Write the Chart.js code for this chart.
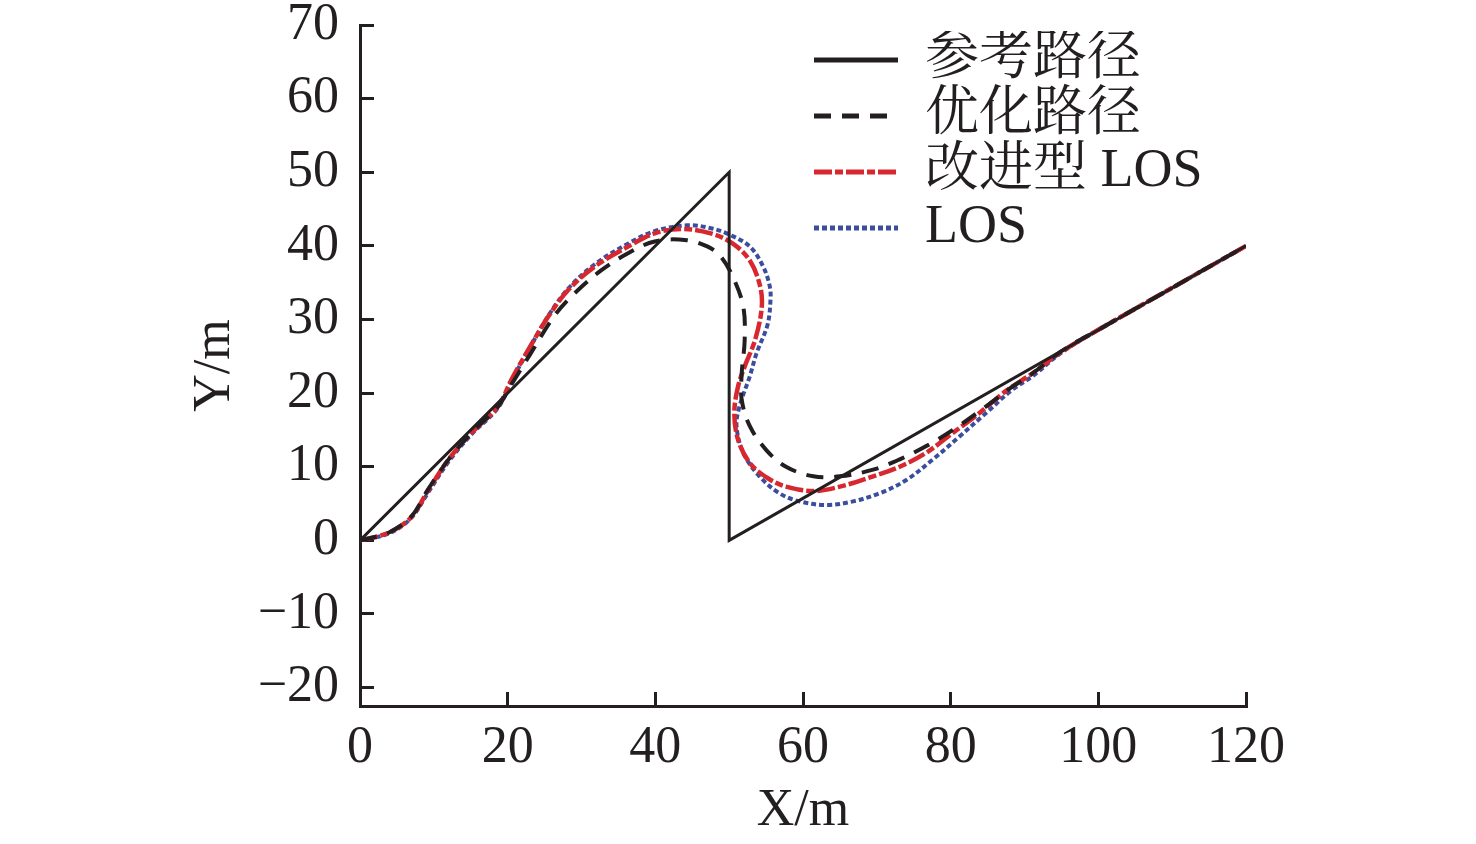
<!DOCTYPE html>
<html>
<head>
<meta charset="utf-8">
<script src="https://cdn.jsdelivr.net/npm/chart.js@4.4.1/dist/chart.umd.min.js"></script>
<style>
  html, body { margin: 0; padding: 0; background: #ffffff; }
  #wrap { width: 1476px; height: 844px; }
</style>
</head>
<body>
<div id="wrap"><canvas id="c" width="1476" height="844"></canvas></div>
<script>
// ---- data ----
const seriesNames = ['参考路径', '优化路径', '改进型 LOS', 'LOS'];

const refX = [0, 50, 50, 120];
const refY = [0, 50, 0, 40];

const optX = [0, 3.8, 7.0, 9.2, 12.0, 15.1, 18.7, 20.6, 23.0, 26.4, 29.1, 32.7, 36.3, 39.9, 44.0, 47.1, 48.9, 50.5, 51.9, 52.1, 51.7, 51.7, 52.8, 55.0, 57.7, 61.4, 65.0, 69.5, 73.1, 76.7, 80.3, 84.8, 88.4, 91.0, 95.0, 100, 110, 120];
const optY = [0, 1.0, 3.3, 6.9, 11.0, 14.6, 18.2, 21.3, 25.2, 30.6, 33.6, 36.7, 39.0, 40.6, 40.8, 39.9, 38.5, 35.8, 31.8, 27.2, 22.7, 19.1, 15.5, 12.3, 10.0, 8.7, 8.7, 9.6, 11.0, 12.8, 15.0, 18.2, 20.9, 22.6, 25.7, 28.6, 34.3, 40];

const impX = [0, 3.8, 6.8, 9.3, 12.0, 15.1, 18.7, 20.5, 22.8, 25.5, 28.2, 31.8, 36.3, 39.9, 43.5, 47.5, 50.5, 52.8, 54.2, 54.4, 53.5, 52.1, 51.2, 50.7, 51.2, 52.8, 55.3, 57.7, 61.4, 65.0, 69.5, 73.1, 76.7, 80.3, 83.9, 87.5, 91.1, 95.0, 100, 110, 120];
const impY = [0, 1.0, 3.0, 6.9, 11.0, 14.6, 18.2, 21.8, 25.9, 30.4, 34.0, 37.2, 39.9, 41.7, 42.3, 41.7, 40.3, 38.0, 34.5, 31.5, 27.2, 23.6, 20.9, 17.3, 13.7, 10.5, 8.4, 7.3, 6.7, 7.3, 8.7, 10.0, 11.9, 14.6, 17.3, 20.3, 22.7, 25.6, 28.6, 34.3, 40];

const losX = [0, 3.8, 6.8, 9.3, 12.0, 15.1, 18.7, 20.5, 22.8, 25.5, 28.2, 31.8, 36.3, 39.9, 44.4, 47.5, 50.1, 52.8, 54.6, 55.5, 55.6, 55.2, 53.7, 52.8, 51.4, 51.0, 51.9, 54.1, 56.8, 59.5, 63.2, 66.8, 70.4, 74.0, 77.6, 81.2, 84.8, 88.4, 91.1, 95.0, 100, 110, 120];
const losY = [0, 0.9, 2.9, 6.6, 10.7, 14.4, 18.0, 21.6, 25.8, 30.5, 34.2, 37.5, 40.3, 42.0, 42.8, 42.4, 41.5, 39.9, 37.2, 34.5, 32.7, 29.3, 25.4, 22.3, 18.2, 15.5, 11.9, 8.7, 6.4, 5.3, 4.8, 5.3, 6.4, 8.2, 11.0, 14.1, 17.3, 20.5, 22.3, 25.5, 28.6, 34.3, 40];

const xTicks = [0, 20, 40, 60, 80, 100, 120];
const yTicks = [-20, -10, 0, 10, 20, 30, 40, 50, 60, 70];
const xTitle = 'X/m';
const yTitle = 'Y/m';

// ---- build ----
const pts = (xs, ys) => xs.map((x, i) => ({ x: x, y: ys[i] }));
const INK = '#231f20';
const LATIN = '"Liberation Serif", "Times New Roman", Times, serif';
const SERIF = '"Liberation Serif", "Times New Roman", "Noto Serif CJK SC", "Noto Sans CJK SC", serif';

const legendPlacer = {
  id: 'legendPlacer',
  afterLayout(chart) {
    const lg = chart.legend;
    if (!lg) return;
    const w = lg.width, h = lg.height;
    lg.left = chart.chartArea.left + 452;
    lg.top = chart.chartArea.top + 6;
    lg.right = lg.left + w;
    lg.bottom = lg.top + h;
  }
};

new Chart(document.getElementById('c'), {
  type: 'scatter',
  data: {
    datasets: [
      { label: seriesNames[0], data: pts(refX, refY), showLine: true, borderColor: INK, backgroundColor: INK, borderWidth: 3, tension: 0, pointRadius: 0 },
      { label: seriesNames[1], data: pts(optX, optY), showLine: true, borderColor: INK, backgroundColor: INK, borderWidth: 4, borderDash: [17, 11], tension: 0.35, pointRadius: 0 },
      { label: seriesNames[2], data: pts(impX, impY), showLine: true, borderColor: '#d7282f', backgroundColor: '#d7282f', borderWidth: 4.5, borderDash: [18, 3, 8, 3], tension: 0.35, pointRadius: 0 },
      { label: seriesNames[3], data: pts(losX, losY), showLine: true, borderColor: '#3b4d9e', backgroundColor: '#3b4d9e', borderWidth: 4, borderDash: [5, 3], tension: 0.35, pointRadius: 0 }
    ]
  },
  options: {
    responsive: false,
    animation: false,
    devicePixelRatio: 1,
    layout: { padding: { left: 0, right: 230, top: 25, bottom: 0 } },
    plugins: {
      tooltip: { enabled: false },
      legend: {
        position: 'chartArea',
        align: 'start',
        labels: {
          usePointStyle: true,
          pointStyle: 'line',
          pointStyleWidth: 84,
          boxHeight: 54,
          padding: 2,
          color: INK,
          font: { family: SERIF, size: 54, lineHeight: 1 },
          generateLabels(chart) {
            const items = Chart.defaults.plugins.legend.labels.generateLabels(chart);
            items.forEach((it) => {
              const ds = chart.data.datasets[it.datasetIndex];
              it.lineDash = ds.borderDash || [];
              it.lineWidth = 5;
              it.strokeStyle = ds.borderColor;
              it.fillStyle = ds.borderColor;
              it.pointStyle = 'line';
            });
            return items;
          }
        }
      }
    },
    scales: {
      x: {
        type: 'linear',
        min: 0, max: 120,
        afterBuildTicks: (s) => { s.ticks = xTicks.map(v => ({ value: v })); },
        afterFit: (s) => { s.height = 138; },
        ticks: {
          autoSkip: false, maxRotation: 0, padding: 30, color: INK,
          font: { family: LATIN, size: 52, lineHeight: 1 },
          callback: (v) => String(v).replace('-', '\u2212')
        },
        grid: { drawOnChartArea: false, tickLength: -14, color: INK, lineWidth: 3 },
        border: { color: INK, width: 3 },
        title: { display: true, text: xTitle, color: INK, padding: { top: 0, bottom: 7 }, font: { family: LATIN, size: 52, lineHeight: 1 } }
      },
      y: {
        type: 'linear',
        min: -22.5, max: 70,
        afterBuildTicks: (s) => { s.ticks = yTicks.map(v => ({ value: v })); },
        afterFit: (s) => { s.width = 360; s.paddingTop = 25; s.paddingBottom = 25; },
        ticks: {
          autoSkip: false, padding: 35, color: INK,
          font: { family: LATIN, size: 52, lineHeight: 1 },
          callback: (v) => String(v).replace('-', '\u2212')
        },
        grid: { drawOnChartArea: false, tickLength: -14, color: INK, lineWidth: 3 },
        border: { color: INK, width: 3 },
        title: { display: true, text: yTitle, color: INK, padding: { top: 189, bottom: 0 }, font: { family: LATIN, size: 52, lineHeight: 1 } }
      }
    }
  },
  plugins: [legendPlacer]
});
</script>
</body>
</html>
